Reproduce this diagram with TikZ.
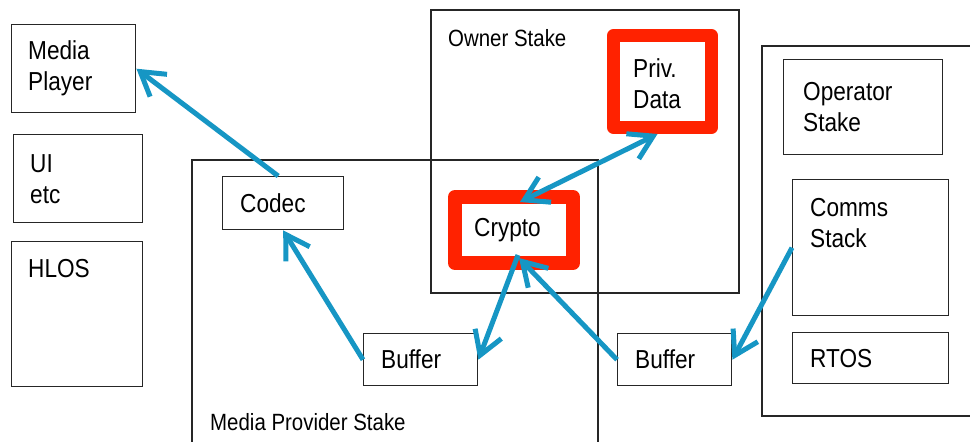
\documentclass[tikz,border=0pt]{standalone}
\usepackage{fontspec}
\setmainfont{Liberation Sans}[FakeStretch=0.87]
\usetikzlibrary{arrows.meta,positioning}
\definecolor{LinkBlue}{RGB}{22,150,196}
\definecolor{SecureRed}{RGB}{255,34,0}
\tikzset{
  box/.style={draw=black!85,line width=1.4pt,anchor=north west,inner sep=0pt},
  hotbox/.style={draw=SecureRed,line width=#1,line join=round,anchor=north west,inner sep=0pt,outer sep=.5*#1},
  txt/.style={align=left,inner sep=0pt,anchor=west,font=\fontsize{26}{31}\selectfont},
  stake/.style={inner sep=0pt,anchor=base west,font=\fontsize{23.5}{28}\selectfont},
  frame/.style={draw=black!85,line width=1.4pt},
  flow/.style={draw=LinkBlue,line width=5pt,->},
  >={Straight Barb[length=23pt,width=28pt]},
}

\begin{document}
\begin{tikzpicture}[x=1pt,y=-1pt]
\useasboundingbox (0,0) rectangle (970,442);

% stake areas
\draw[frame] (192,442) |- (598,160) -- (598,442);
\draw[frame] (431,10) rectangle (739,293);
\draw[frame] (970,46) -| (762,416) -- (970,416);
\node[stake] (ownerlbl) at (448,46) {Owner Stake};
\node[stake] (providerlbl) at (210,430) {Media Provider Stake};

% host side
\node[box,minimum width=124pt,minimum height=88pt] (player) at (11,24) {};
\node[box,minimum width=129pt,minimum height=88pt] (uietc) at (13,134) {};
\node[box,minimum width=131pt,minimum height=145pt] (hlos) at (11,241) {};
\node[txt] (playertxt) at ([xshift=17pt]player.west) {Media\\Player};
\node[txt] (uitxt) at ([xshift=17pt]uietc.west) {UI\\etc};
\node[txt,anchor=base west] (hlostxt) at ([shift={(17,36)}]hlos.north west) {HLOS};

% media provider
\node[box,minimum width=121pt,minimum height=53pt] (codec) at (222,176) {};
\node[box,minimum width=114pt,minimum height=52pt] (bufa) at (363,333) {};
\node[txt] (codectxt) at ([xshift=18pt]codec.west) {Codec};
\node[txt] (bufatxt) at ([xshift=18pt]bufa.west) {Buffer};

% owner
\node[hotbox=13pt,minimum width=98pt,minimum height=92pt] (privdata) at (607,29) {};
\node[hotbox=14pt,minimum width=118pt,minimum height=66pt] (crypto) at (448,190) {};
\node[txt] (privtxt) at ([xshift=26pt,yshift=-2pt]privdata.west) {Priv.\\Data};
\node[txt] (cryptotxt) at ([xshift=26pt]crypto.west) {Crypto};

% operator
\node[box,minimum width=114pt,minimum height=52pt] (bufb) at (617,333) {};
\node[box,minimum width=159pt,minimum height=95pt] (opstake) at (783,59) {};
\node[box,minimum width=156pt,minimum height=136pt] (comms) at (792,179) {};
\node[box,minimum width=156pt,minimum height=51pt] (rtos) at (792,332) {};
\node[txt] (bufbtxt) at ([xshift=18pt]bufb.west) {Buffer};
\node[txt] (optxt) at ([xshift=20pt]opstake.west) {Operator\\Stake};
\node[txt,anchor=base west] (commstxt) at ([shift={(18,68)}]comms.north west) {Comms\\Stack};
\node[txt] (rtostxt) at ([xshift=18pt]rtos.west) {RTOS};

% data paths
\draw[flow] ([xshift=-5pt]codec.north) -- (player.east);
\draw[flow] (bufa.west) -- (codec.south);
\draw[flow] ([xshift=4pt,yshift=15pt]crypto.south) -- (bufa.east);
\draw[flow] (bufb.west) -- ([xshift=5pt,yshift=12pt]crypto.south);
\draw[flow,<->] ([xshift=6pt,yshift=-12pt]crypto.north) -- ([xshift=-5pt]privdata.south);
\draw[flow] (comms.west) -- (bufb.east);
\end{tikzpicture}
\end{document}
